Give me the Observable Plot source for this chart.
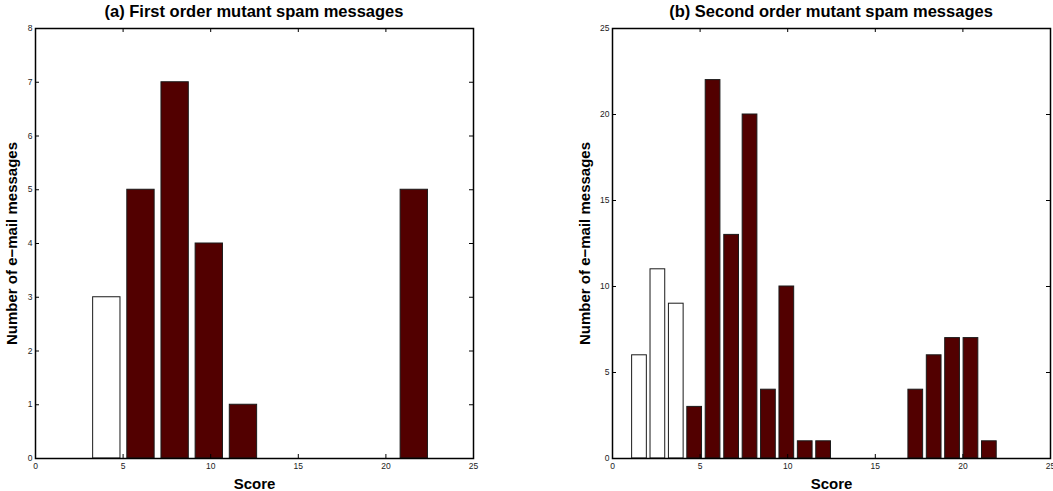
<!DOCTYPE html>
<html>
<head>
<meta charset="utf-8">
<script src="https://cdn.jsdelivr.net/npm/d3@7"></script>
<script src="https://cdn.jsdelivr.net/npm/@observablehq/plot@0.6"></script>
<style>
  body { margin: 0; background: #fff; }
  #wrap { position: relative; width: 1053px; height: 491px; overflow: hidden; font-family: "Liberation Sans", Arial, sans-serif; }
  .title { position: absolute; top: 0; height: 23px; line-height: 23px; text-align: center; font-weight: bold; font-size: 16.5px; color: #000; white-space: nowrap; }
  .panel { position: absolute; top: 22px; }
  .panel svg g[aria-label="x-axis label"] text,
  .panel svg g[aria-label="y-axis label"] text { font-family: "Liberation Sans", Arial, sans-serif; font-weight: bold; font-size: 15px; fill: #000; }
</style>
</head>
<body>
<div id="wrap">
  <div class="title" id="t1" style="left:35px;width:438px"></div>
  <div class="title" id="t2" style="left:612px;width:438px"></div>
  <div class="panel" id="p1" style="left:0px"></div>
  <div class="panel" id="p2" style="left:527px"></div>
</div>
<script>
// ---- Data ----
const titleA = "(a) First order mutant spam messages";
const titleB = "(b) Second order mutant spam messages";
const xLabel = "Score";
const yLabel = "Number of e\u2212mail messages";

// Panel (a): bin centres (score), counts, and whether the bin is below the spam threshold
const scoresA = [4.07, 6.02, 7.97, 9.92, 11.87, 13.82, 15.77, 17.72, 19.67, 21.62];
const countsA = [3, 5, 7, 4, 1, 0, 0, 0, 0, 5];
const missedA = [true, false, false, false, false, false, false, false, false, false];

// Panel (b)
const scoresB = [1.54, 2.59, 3.64, 4.69, 5.74, 6.80, 7.85, 8.90, 9.95, 11.00,
                 12.05, 13.10, 14.15, 15.20, 16.25, 17.31, 18.36, 19.41, 20.46, 21.51];
const countsB = [6, 11, 9, 3, 22, 13, 20, 4, 10, 1, 1, 0, 0, 0, 0, 4, 6, 7, 7, 1];
const missedB = [true, true, true, false, false, false, false, false, false, false,
                 false, false, false, false, false, false, false, false, false, false];

const xTicks = [0, 5, 10, 15, 20, 25];
const yTicksA = [0, 1, 2, 3, 4, 5, 6, 7, 8];
const yTicksB = [0, 5, 10, 15, 20, 25];

// ---- Chart ----
function panel({scores, counts, missed, yMax, yTicks, width, marginLeft, marginRight, yLabelOffset}) {
  const height = 469, marginTop = 6, marginBottom = 33;
  const frameH = height - marginTop - marginBottom;
  const frameW = width - marginLeft - marginRight;
  const step = scores[1] - scores[0];
  const data = scores.map((s, i) => ({
    x1: s - 0.4 * step, x2: s + 0.4 * step, count: counts[i], missed: missed[i]
  }));
  const tick = 4;
  return Plot.plot({
    width, height, marginTop, marginBottom, marginLeft, marginRight,
    style: {fontFamily: "'Liberation Sans', Arial, sans-serif", fontSize: "8.5px", color: "#222", background: "#fff"},
    x: {domain: [0, 25], ticks: xTicks, tickSize: 0, tickPadding: 4, label: xLabel, labelAnchor: "center", labelOffset: 30, labelArrow: "none"},
    y: {domain: [0, yMax], ticks: yTicks, tickSize: 0, tickPadding: 3, label: yLabel, labelAnchor: "center", labelOffset: yLabelOffset, labelArrow: "none"},
    marks: [
      Plot.rectY(data, {x1: "x1", x2: "x2", y1: 0, y2: "count",
        fill: d => d.missed ? "#ffffff" : "#520000", stroke: "#1a1a1a", strokeWidth: 1}),
      Plot.tickX(xTicks, {x: d => d, insetTop: frameH - tick, stroke: "#000"}),
      Plot.tickX(xTicks, {x: d => d, insetBottom: frameH - tick, stroke: "#000"}),
      Plot.tickY(yTicks, {y: d => d, insetRight: frameW - tick, stroke: "#000"}),
      Plot.tickY(yTicks, {y: d => d, insetLeft: frameW - tick, stroke: "#000"}),
      Plot.frame({stroke: "#000", strokeWidth: 1.5})
    ]
  });
}

document.getElementById("t1").textContent = titleA;
document.getElementById("t2").textContent = titleB;
document.getElementById("p1").appendChild(panel({
  scores: scoresA, counts: countsA, missed: missedA, yMax: 8, yTicks: yTicksA,
  width: 527, marginLeft: 35, marginRight: 54, yLabelOffset: 29
}));
document.getElementById("p2").appendChild(panel({
  scores: scoresB, counts: countsB, missed: missedB, yMax: 25, yTicks: yTicksB,
  width: 526, marginLeft: 85, marginRight: 3, yLabelOffset: 33
}));
</script>
</body>
</html>
